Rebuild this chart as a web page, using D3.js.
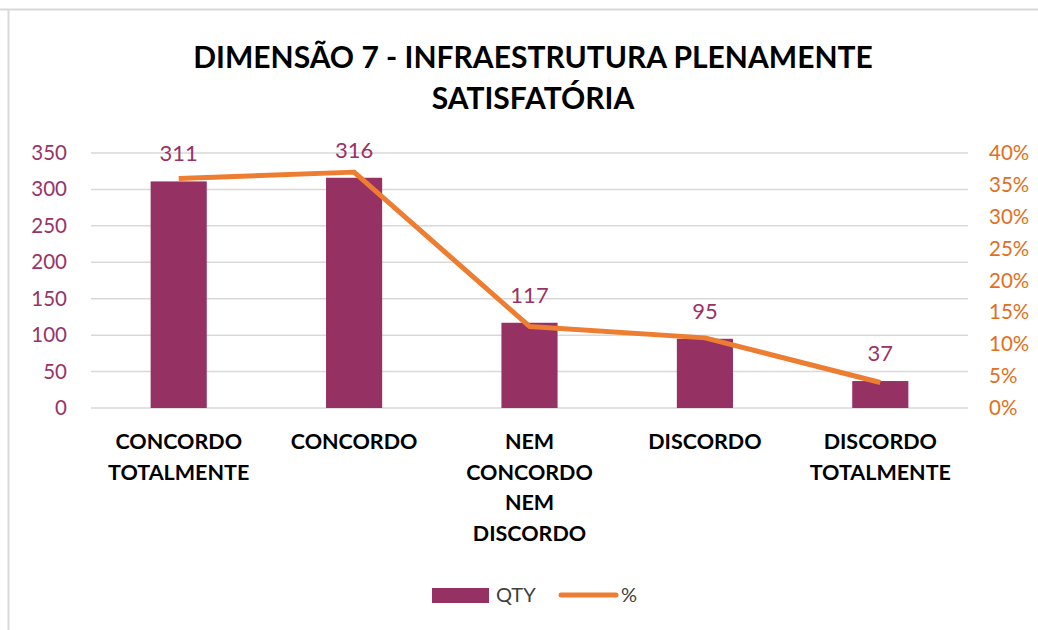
<!DOCTYPE html>
<html>
<head>
<meta charset="utf-8">
<script src="https://cdn.jsdelivr.net/npm/d3@7"></script>
<style>
  body { margin: 0; background: #fff; }
  svg text { font-family: Lato, "Open Sans", sans-serif; }
</style>
</head>
<body>
<div id="chart"></div>
<script>
// data
const categories = [
  ['CONCORDO', 'TOTALMENTE'],
  ['CONCORDO'],
  ['NEM', 'CONCORDO', 'NEM', 'DISCORDO'],
  ['DISCORDO'],
  ['DISCORDO', 'TOTALMENTE']
];
const qty = [311, 316, 117, 95, 37];
const pct = [36.0, 37.0, 12.8, 11.0, 4.0];
const leftTicks = [0, 50, 100, 150, 200, 250, 300, 350];
const rightTicks = [0, 5, 10, 15, 20, 25, 30, 35, 40];
const titleLines = ['DIMENSÃO 7 - INFRAESTRUTURA PLENAMENTE', 'SATISFATÓRIA'];

const width = 1038,
      height = 630;
const margin = {top: 153, right: 70, bottom: 222, left: 91};

const barColor = '#953163',
      lineColor = '#ED7D31',
      leftColor = '#993366',
      rightColor = '#E0701E';

var svg = d3.select('#chart')
  .append('svg')
  .attr('width', width)
  .attr('height', height);

// chart frame (only top and left edges visible)
svg.append('line')
  .attr('x1', 0).attr('x2', width).attr('y1', 9.5).attr('y2', 9.5)
  .attr('stroke', '#d9d9d9').attr('stroke-width', 2);
svg.append('line')
  .attr('x1', 8.5).attr('x2', 8.5).attr('y1', 9).attr('y2', height)
  .attr('stroke', '#d9d9d9').attr('stroke-width', 2);

// title
svg.append('text')
  .attr('x', 533)
  .attr('text-anchor', 'middle')
  .style('font-weight', 'bold')
  .style('font-size', '30px')
  .attr('fill', '#000')
  .selectAll('tspan')
  .data(titleLines)
  .enter()
  .append('tspan')
  .attr('x', 533)
  .attr('y', function (d, i) { return 68 + i * 41; })
  .text(function (d) { return d; });

var x = d3.scaleBand()
  .domain(d3.range(categories.length))
  .range([margin.left, width - margin.right])
  .paddingInner(0.68)
  .paddingOuter(0.34);

var y = d3.scaleLinear()
  .domain([0, 350])
  .range([height - margin.bottom, margin.top]);

var y2 = d3.scaleLinear()
  .domain([0, 40])
  .range([height - margin.bottom, margin.top]);

// gridlines
svg.append('g')
  .selectAll('line')
  .data(leftTicks)
  .enter()
  .append('line')
  .attr('x1', margin.left)
  .attr('x2', width - margin.right)
  .attr('y1', function (d) { return y(d); })
  .attr('y2', function (d) { return y(d); })
  .attr('stroke', '#d9d9d9')
  .attr('stroke-width', 1.5);

// left axis
var gl = svg.append('g')
  .attr('transform', 'translate(' + margin.left + ',0)')
  .call(d3.axisLeft(y).tickValues(leftTicks).tickSize(0).tickPadding(24));
gl.select('.domain').remove();
gl.selectAll('text')
  .attr('fill', leftColor)
  .style('font-size', '20.5px')
  .style('font-family', 'Lato, sans-serif');

// right axis
var gr = svg.append('g')
  .attr('transform', 'translate(' + (width - margin.right) + ',0)')
  .call(d3.axisRight(y2).tickValues(rightTicks).tickSize(0).tickPadding(21)
    .tickFormat(function (d) { return d + '%'; }));
gr.select('.domain').remove();
gr.selectAll('text')
  .attr('fill', rightColor)
  .style('font-size', '20.5px')
  .style('font-family', 'Lato, sans-serif');

// bars
svg.append('g')
  .selectAll('rect')
  .data(qty)
  .enter()
  .append('rect')
  .attr('x', function (d, i) { return x(i); })
  .attr('y', function (d) { return y(d); })
  .attr('width', x.bandwidth())
  .attr('height', function (d) { return y(0) - y(d); })
  .attr('fill', barColor);

// line
var line = d3.line()
  .x(function (d, i) { return x(i) + x.bandwidth() / 2; })
  .y(function (d) { return y2(d); });

svg.append('path')
  .datum(pct)
  .attr('d', line)
  .attr('fill', 'none')
  .attr('stroke', lineColor)
  .attr('stroke-width', 5)
  .attr('stroke-linejoin', 'round');

// value labels
svg.append('g')
  .selectAll('text')
  .data(qty)
  .enter()
  .append('text')
  .attr('x', function (d, i) { return x(i) + x.bandwidth() / 2; })
  .attr('y', function (d) { return y(d) - 20; })
  .attr('text-anchor', 'middle')
  .attr('fill', leftColor)
  .style('font-size', '22px')
  .text(function (d) { return d; });

// category labels
svg.append('g')
  .selectAll('text')
  .data(categories)
  .enter()
  .append('text')
  .attr('text-anchor', 'middle')
  .style('font-weight', 'bold')
  .style('font-size', '21.5px')
  .attr('fill', '#000')
  .each(function (d, i) {
    d3.select(this).selectAll('tspan')
      .data(d)
      .enter()
      .append('tspan')
      .attr('x', x(i) + x.bandwidth() / 2)
      .attr('y', function (t, j) { return 449 + j * 30.5; })
      .text(function (t) { return t; });
  });

// legend
var legend = svg.append('g').attr('id', 'legend');
legend.append('rect')
  .attr('x', 432).attr('y', 588)
  .attr('width', 57).attr('height', 15)
  .attr('fill', barColor);
legend.append('text')
  .attr('x', 496).attr('y', 602)
  .style('font-size', '20px')
  .attr('fill', '#404040')
  .text('QTY');
legend.append('line')
  .attr('x1', 561).attr('x2', 616)
  .attr('y1', 595).attr('y2', 595)
  .attr('stroke', lineColor)
  .attr('stroke-width', 5)
  .attr('stroke-linecap', 'round');
legend.append('text')
  .attr('x', 621).attr('y', 602)
  .style('font-size', '20px')
  .attr('fill', '#404040')
  .text('%');
</script>
</body>
</html>
